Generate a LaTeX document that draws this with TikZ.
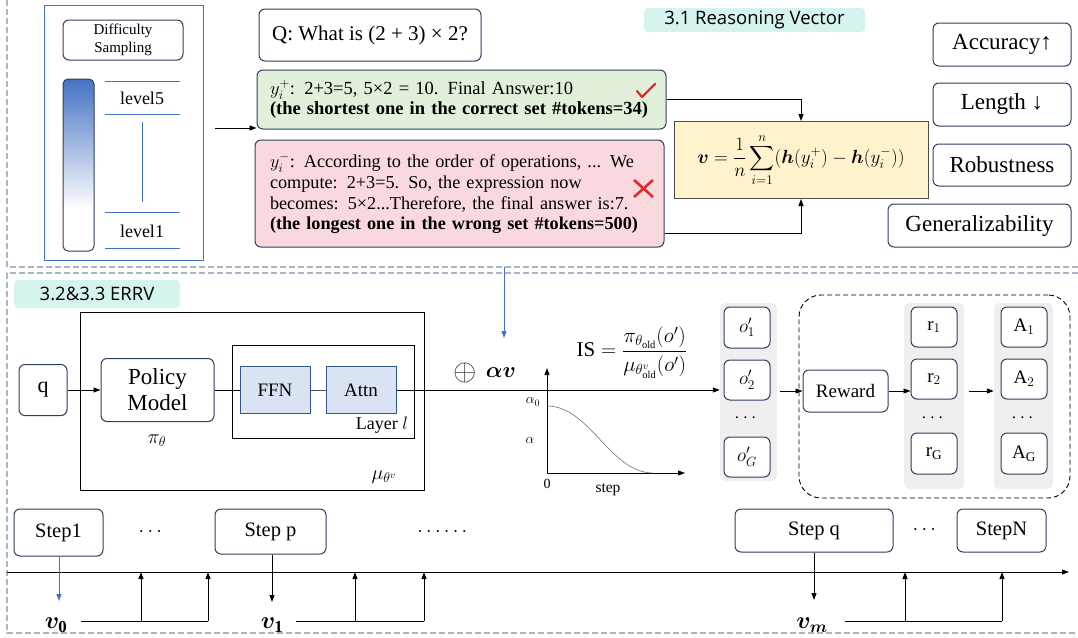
\RequirePackage{fix-cm}
\documentclass[tikz,border=0pt]{standalone}
\usepackage{amsmath,bm}
\usepackage{fontspec}
\setmainfont{Liberation Serif}
\newfontfamily\tagfont{Open Sans}
\usetikzlibrary{arrows.meta,calc}

\definecolor{navy}{HTML}{2F3E5E}
\definecolor{barblue}{HTML}{4472C4}
\definecolor{frameclr}{HTML}{A9B6C8}
\definecolor{goodfill}{HTML}{E2EFDA}
\definecolor{badfill}{HTML}{F9D9DE}
\definecolor{formfill}{HTML}{FFF2CC}
\definecolor{tagfill}{HTML}{D5F3EF}
\definecolor{layerfill}{HTML}{DAE3F3}
\definecolor{layerline}{HTML}{2F5597}
\definecolor{colfill}{HTML}{EFEFEF}
\definecolor{markred}{HTML}{E02B2B}

% difficulty bar: white at the bottom, blue towards the top
\pgfdeclareverticalshading{diffbar}{100bp}{color(0bp)=(white); color(37bp)=(white); color(75bp)=(barblue); color(100bp)=(barblue)}

\newcommand{\fsz}[2]{\fontsize{#1}{#2}\selectfont}

\tikzset{
  wh/.style 2 args={minimum width=#1pt, minimum height=#2pt},
  rbox/.style={draw=navy, line width=1pt, rounded corners=6pt, fill=white, inner sep=0pt, align=center},
  plainbox/.style={draw=black, line width=0.9pt, inner sep=0pt},
  colbg/.style={fill=colfill, rounded corners=5pt, inner sep=0pt},
  tagbox/.style={fill=tagfill, rounded corners=4pt, inner sep=0pt, font=\tagfont\fsz{18.5}{20}},
  conn/.style={line width=0.9pt, -{Triangle[length=7pt,width=5pt]}},
  bconn/.style={conn, draw=barblue, -{Triangle[length=7pt,width=5pt,fill=barblue]}},
  framedash/.style={draw=frameclr, line width=1.2pt, dash pattern=on 6pt off 3pt},
  levline/.style={draw=barblue, line width=1pt},
}

\begin{document}
\begin{tikzpicture}[x=1pt,y=-1pt]
\useasboundingbox (0,0) rectangle (1078,637);

% ---------- section frames ----------
\draw[framedash] (7,0) -- (7,267) -- (1078,267);
\draw[framedash] (1078,273) -- (7,273) -- (7,633) -- (1078,633);

% ---------- difficulty sampling panel ----------
\node[draw=barblue, line width=1pt, wh={159}{255}] (diffpanel) at (123.5,132.5) {};
\node[rbox, wh={120}{40}, font=\fsz{15}{18.5}] (diffsamp) at (123,40) {Difficulty\\Sampling};
\node[draw=navy, line width=1pt, rounded corners=5pt, shade, shading=diffbar, wh={31}{172}] (bar) at (78.5,165) {};
\draw[levline] (105,81) -- (180,81);
\draw[levline] (105,114) -- (180,114);
\draw[levline] (105,212) -- (180,212);
\draw[levline] (105,248) -- (180,248);
\draw[levline] (142,122) -- (142,202);
\node[font=\fsz{18}{20}] (lv5) at (142,98) {level5};
\node[font=\fsz{18}{20}] (lv1) at (142,231) {level1};

% ---------- question and sampled answers ----------
\node[rbox, wh={222}{52}, font=\fsz{21}{24}] (question) at (370,35) {Q: What is (2 + 3) × 2?};
\node[rbox, fill=goodfill, wh={409}{59}, text width=383pt, inner xsep=13pt, align=left, font=\fsz{18.5}{20}] (good) at (461.5,99.5)
  {$y_i^{+}$: 2+3=5, 5×2 = 10. Final Answer:10\\\textbf{(the shortest one in the correct set \#tokens=34)}};
\node[rbox, fill=badfill, wh={409}{107}, text width=379pt, inner xsep=15pt, align=left, font=\fsz{18.2}{20.7}] (bad) at (459.5,193.5)
  {$y_i^{-}$: According to the order of operations, ... We\\compute: 2+3=5. So, the expression now\\becomes: 5×2...Therefore, the final answer is:7.\\\textbf{(the longest one in the wrong set \#tokens=500)}};

% tick and cross marks
\draw[markred, line width=2.2pt, line cap=round, line join=round] (637,91) -- (642,97) -- (655,84);
\draw[markred, line width=2.6pt] (634,180) -- (653,197) (653,180) -- (634,197);

\coordinate (panout) at (215,128);
\draw[conn] (panout) -- (panout -| good.west);

% ---------- reasoning vector ----------
\node[tagbox, wh={221}{24}] (tag31) at (754.5,20) {3.1 Reasoning Vector};
\node[draw=black!70, fill=formfill, line width=1pt, wh={254}{77}, inner sep=0pt, font=\fsz{19}{22}] (vec) at (801,160)
  {$\displaystyle \bm{v}=\frac{1}{n}\sum_{i=1}^{n}(\bm{h}(y_i^{+})-\bm{h}(y_i^{-}))$};
\draw[conn] (good.east) -| (vec.north);
\draw[conn] ([yshift=-39.5pt]bad.east) -| (vec.south);

\node[rbox, wh={138}{43}, font=\fsz{23}{25}] (acc) at (1002,44.5) {Accuracy↑};
\node[rbox, wh={138}{43}, font=\fsz{23}{25}] (len) at (1002,104.5) {Length ↓};
\node[rbox, wh={138}{42}, font=\fsz{23}{25}] (rob) at (1002,165) {Robustness};
\node[rbox, wh={183}{43}, font=\fsz{23}{25}] (gen) at (979.5,225.5) {Generalizability};

% ---------- ERRV ----------
\node[tagbox, wh={166}{28}] (tagerrv) at (97,294) {3.2\&3.3 ERRV};

\node[plainbox, wh={344}{178}] (mubox) at (252,401) {};
\node[font=\fsz{20}{22}] (mulabel) at (384,477) {$\mu_{\theta^{v}}$};
\node[rbox, wh={48}{51}, font=\fsz{22}{24}] (q) at (43,390) {q};
\node[rbox, wh={113}{63}, font=\fsz{23}{26}] (policy) at (157.5,390) {Policy\\Model};
\node[font=\fsz{20}{22}] (pilabel) at (157,441) {$\pi_{\theta}$};
\node[plainbox, wh={182}{93}] (layer) at (323,391.5) {};
\node[font=\fsz{18}{20}] (layerlabel) at (382,425) {Layer $l$};
\node[draw=layerline, fill=layerfill, line width=1pt, wh={70}{47}, inner sep=0pt, font=\fsz{19}{21}] (ffn) at (275,390) {FFN};
\node[draw=layerline, fill=layerfill, line width=1pt, wh={70}{47}, inner sep=0pt, font=\fsz{19}{21}] (attn) at (361,390) {Attn};

\draw[conn] (q) -- (policy);
\draw[line width=0.9pt] (policy) -- (ffn);
\draw[line width=0.9pt, black!70] (ffn) -- (attn);

\node[font=\fsz{30}{32}, text=black!75] (oplus) at (465,373) {$\oplus$};
\node[font=\fsz{22}{24}] (av) at (501,373) {$\bm{\alpha v}$};
\coordinate (vsrc) at (504,267);
\coordinate (vdst) at (504,338);
\draw[bconn] (vsrc) -- (vdst);

\node[font=\fsz{21}{24}, inner sep=1pt] (isratio) at (632,353)
  {$\mathrm{IS}=\dfrac{\pi_{\theta_{\mathrm{old}}}(o')}{\mu_{\theta^{v}_{\mathrm{old}}}(o')}$};

% schedule of alpha over training steps
\coordinate (aorig) at (547,473);
\draw[conn] (aorig) -- (547,368);
\draw[conn] (aorig) -- (685,473);
\draw[gray, line width=0.7pt] (547,406) .. controls (590,406) and (610,473) .. (653,473);
\node[font=\fsz{14}{16}] (a0lab) at (533,402) {$\alpha_0$};
\node[font=\fsz{14}{16}] (alab) at (530,440) {$\alpha$};
\node[font=\fsz{14}{16}] (zlab) at (547,484) {0};
\node[font=\fsz{15.5}{17}] (steplab) at (608,490) {step};

% sampled outputs
\node[colbg, wh={57}{178}] (ocol) at (748.5,392) {};
\node[rbox, wh={46}{41}, font=\fsz{19}{21}] (o1) at (747,327.5) {$o_1'$};
\node[rbox, wh={46}{40}, font=\fsz{19}{21}] (o2) at (747,380) {$o_2'$};
\node[font=\fsz{19}{21}] (odots) at (747,418) {$\cdots$};
\node[rbox, wh={46}{40}, font=\fsz{19}{21}] (oG) at (747,457) {$o_G'$};

\draw[conn] (attn.east) -- (attn.east -| ocol.west);

% reward group
\node[draw, line width=0.9pt, dash pattern=on 5pt off 3pt, rounded corners=22pt, wh={271}{203}] (grp) at (934.5,396.5) {};
\node[rbox, wh={85}{42}, font=\fsz{19}{21}] (reward) at (845.5,391) {Reward};

\node[colbg, wh={60}{186}] (rcol) at (934,396) {};
\node[rbox, wh={46}{40}, font=\fsz{19}{21}] (r1) at (934,327) {$\mathrm{r}_1$};
\node[rbox, wh={46}{40}, font=\fsz{19}{21}] (r2) at (934,379) {$\mathrm{r}_2$};
\node[font=\fsz{19}{21}] (rdots) at (934,418) {$\cdots$};
\node[rbox, wh={46}{41}, font=\fsz{19}{21}] (rG) at (934,453.5) {$\mathrm{r}_{\mathrm{G}}$};

\node[colbg, wh={59}{186}] (acol) at (1023.5,396) {};
\node[rbox, wh={46}{40}, font=\fsz{19}{21}] (A1) at (1024,327) {$\mathrm{A}_1$};
\node[rbox, wh={46}{40}, font=\fsz{19}{21}] (A2) at (1024,379) {$\mathrm{A}_2$};
\node[font=\fsz{19}{21}] (adots) at (1024,418) {$\cdots$};
\node[rbox, wh={46}{41}, font=\fsz{19}{21}] (AG) at (1024,453.5) {$\mathrm{A}_{\mathrm{G}}$};

\draw[conn, shorten <=3pt] (ocol.east |- reward.west) -- (reward.west);
\draw[conn] (reward.east) -- (reward.east -| r2.west);
\draw[conn, shorten <=5pt] (rcol.east |- reward.east) -- (acol.west |- reward.east);

% ---------- steps and vectors ----------
\node[rbox, wh={89}{47}, font=\fsz{20.5}{22}] (step1) at (58.5,532.5) {Step1};
\node[font=\fsz{20}{22}] (sdots1) at (152,532) {$\cdots$};
\node[rbox, wh={111}{45}, font=\fsz{20.5}{22}] (stepp) at (270.5,531.5) {Step p};
\node[font=\fsz{20}{22}] (sdots2) at (444,532) {$\cdots\cdots$};
\node[rbox, wh={158}{43}, font=\fsz{20.5}{22}] (stepq) at (814,530.5) {Step q};
\node[font=\fsz{20}{22}] (sdots3) at (926,530) {$\cdots$};
\node[rbox, wh={89}{43}, font=\fsz{20.5}{22}] (stepN) at (1001.5,530.5) {StepN};

\coordinate (tl0) at (7,572);
\coordinate (tl1) at (1069,572);
\draw[conn] (tl0) -- (tl1);

\node[font=\fsz{24}{26}] (v0) at (56,625) {$\bm{v}_{\mathbf{0}}$};
\node[font=\fsz{24}{26}] (v1) at (272,625) {$\bm{v}_{\mathbf{1}}$};
\node[font=\fsz{24}{26}] (vm) at (812,625) {$\bm{v}_{\bm{m}}$};

\coordinate (v0in) at (59,601);
\coordinate (v1in) at (272,602);
\coordinate (vmin) at (814,600);
\draw[bconn] (step1.south -| v0in) -- (v0in);
\draw[conn] (stepp.south -| v1in) -- (v1in);
\draw[conn] (stepq.south -| vmin) -- (vmin);

% each vector feeds the following steps
\coordinate (v0a) at (81,621);  \coordinate (v0b) at (141,621); \coordinate (v0c) at (208,621);
\coordinate (v1a) at (296,621); \coordinate (v1b) at (355,621); \coordinate (v1c) at (424,621);
\coordinate (vma) at (845,621); \coordinate (vmb) at (905,621); \coordinate (vmc) at (1002,621);
\draw[line width=0.9pt] (v0a) -- (v0c);
\draw[line width=0.9pt] (v1a) -- (v1c);
\draw[line width=0.9pt] (vma) -- (vmc);
\foreach \p in {v0b,v0c,v1b,v1c,vmb,vmc}
  \draw[conn] (\p) -- (\p |- tl0);
\end{tikzpicture}
\end{document}
